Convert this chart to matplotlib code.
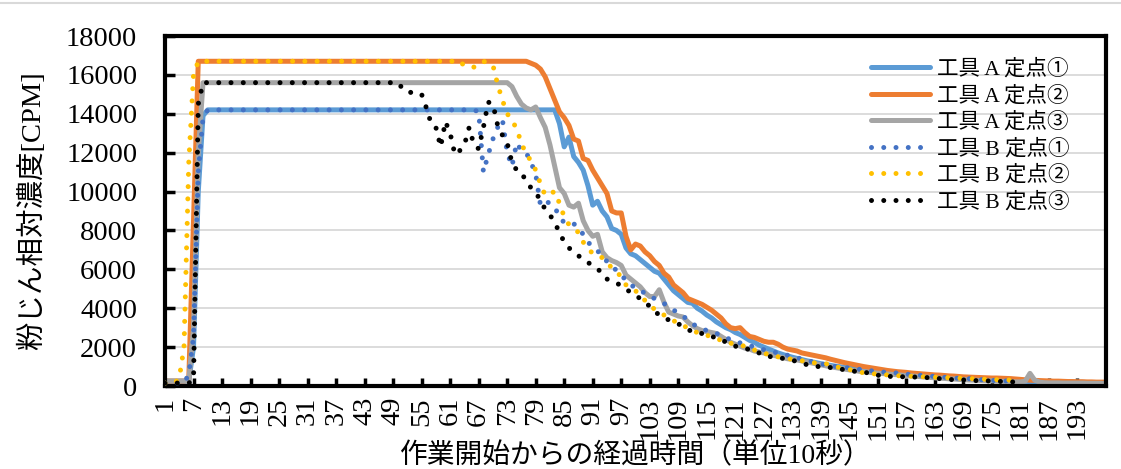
import matplotlib
matplotlib.use("Agg")
import matplotlib.pyplot as plt
from matplotlib.lines import Line2D
import numpy as np

plt.rcParams['font.family'] = ['Liberation Serif', 'Noto Sans CJK JP', 'DejaVu Sans']

# ---- data: relative dust concentration [CPM] per 10-second step ----
series_names = ["工具 A 定点①", "工具 A 定点②", "工具 A 定点③",
                "工具 B 定点①", "工具 B 定点②", "工具 B 定点③"]

tool_a_p1 = ([250] * 6 + [2000, 10000, 13900] + [14200] * 74 +
             [13500, 12300, 12800, 11800, 11500, 11100, 10300, 9300, 9500, 9000,
              8700, 8100, 8000, 7800, 7100, 6800, 6700, 6500, 6300, 6100,
              5900, 5800, 5500, 5200, 4900, 4700, 4500, 4300, 4250, 4000,
              3850, 3650, 3500, 3300, 3150, 3000, 2900, 2750, 2650, 2500,
              2350, 2250, 2100, 2000, 1900, 1800, 1700, 1620, 1550, 1480,
              1420, 1360, 1300, 1250, 1200, 1150, 1100, 1060, 1020, 990,
              960, 930, 900, 860, 820, 790, 760, 730, 710, 690,
              670, 650, 630, 610, 590, 570, 550, 530, 510, 500,
              480, 470, 460, 440, 430, 420, 410, 390, 380, 360,
              350, 330, 310, 300, 290, 280, 260, 250, 240, 230,
              220, 210, 210, 200, 200, 200, 200, 190, 190, 190,
              190, 180, 180, 180, 180, 180])

tool_a_p2 = ([250] * 5 + [300, 8500] + [16700] * 70 +
             [16600, 16500, 16300, 15900, 15300, 14700, 14100, 13800, 13400, 12700,
              12600, 11700, 11600, 11100, 10700, 10300, 9900, 9000, 8900, 8900,
              7700, 7000, 7300, 7200, 6900, 6700, 6400, 6200, 5800, 5600,
              5200, 5000, 4800, 4500, 4400, 4300, 4200, 4050, 3900, 3700,
              3500, 3200, 3000, 2950, 3000, 2750, 2550, 2500, 2400, 2300,
              2250, 2250, 2150, 2000, 1900, 1850, 1800, 1700, 1650, 1600,
              1550, 1500, 1450, 1380, 1320, 1260, 1200, 1150, 1100, 1050,
              1000, 960, 920, 880, 840, 800, 770, 740, 720, 700,
              670, 650, 630, 610, 590, 570, 560, 540, 520, 510,
              490, 470, 460, 450, 440, 430, 420, 410, 410, 400,
              390, 380, 360, 340, 320, 300, 290, 280, 270, 260,
              250, 250, 240, 230, 230, 220, 220, 210, 210, 200,
              200, 200])

tool_a_p3 = ([250] * 6 + [3000, 12000] + [15600] * 65 +
             [15400, 14900, 14500, 14300, 14200, 14350, 13800, 13300, 12400, 11300,
              10200, 9900, 9300, 9200, 9400, 8500, 8000, 7700, 7800, 6900,
              6600, 6450, 6350, 6200, 5700, 5500, 5300, 5100, 4800, 4600,
              4600, 4950, 4300, 3800, 3700, 3600, 3550, 3300, 3100, 2950,
              2850, 2800, 2750, 2700, 2550, 2400, 2250, 2150, 2050, 1950,
              1900, 1800, 1750, 1700, 1650, 1580, 1520, 1460, 1400, 1370,
              1340, 1290, 1240, 1190, 1140, 1090, 1040, 990, 950, 910,
              870, 830, 800, 760, 730, 710, 680, 660, 640, 620,
              600, 580, 560, 540, 520, 500, 480, 460, 440, 420,
              400, 390, 370, 360, 340, 330, 310, 300, 290, 280,
              270, 260, 250, 240, 230, 220, 210, 210, 250, 650,
              300, 200, 170, 160, 160, 160, 150, 150, 150, 150,
              150, 140, 140, 140, 140, 140])

tool_b_p1 = ([150] * 5 + [600, 2500, 11000, 13800] + [14200] * 57 +
             [14100, 11000, 11900, 12700, 13300, 13700, 12000, 11300, 12500, 12100,
              12000, 11500, 10900, 9300, 9500, 9400, 9200, 8700, 8400, 8400,
              8350, 8100, 7800, 7400, 7150, 6950, 6700, 6400, 6150, 5950,
              5750, 5400, 5200, 5050, 4950, 4750, 4600, 4500, 4420, 4250,
              4050, 3900, 3780, 3600, 3400, 3200, 3050, 2950, 2850, 2780,
              2700, 2630, 2500, 2380, 2280, 2220, 2150, 2080, 2000, 1930,
              1870, 1800, 1750, 1700, 1640, 1580, 1510, 1450, 1390, 1330,
              1260, 1200, 1140, 1090, 1050, 1010, 980, 950, 930, 890,
              860, 830, 800, 770, 740, 720, 700, 680, 670, 640,
              610, 590, 570, 550, 530, 510, 490, 470, 450, 430,
              410, 400, 390, 380, 360, 340, 320, 300, 290, 280,
              270, 260, 250, 240])

tool_b_p2 = ([150] * 3 + [400, 2000, 11500, 16000] + [16700] * 55 +
             [16500, 16600, 16500, 16400, 16500, 16700, 16600, 16500,
              15500, 14700, 14000, 13700, 13200, 12500, 11900, 11600, 11100, 10400,
              9800, 9900, 10000, 9400, 8700, 8300, 8100, 7900, 7400, 7100,
              6800, 6700, 6600, 6300, 6100, 5900, 5600, 5200, 5100, 4900,
              4650, 4400, 4150, 3950, 3800, 3650, 3500, 3350, 3250, 3100,
              3000, 2850, 2750, 2650, 2600, 2550, 2450, 2350, 2250, 2200,
              2150, 2100, 2050, 1950, 1850, 1750, 1700, 1600, 1550, 1500,
              1450, 1400, 1380, 1350, 1300, 1260, 1220, 1180, 1150, 1150,
              1100, 1000, 950, 900, 850, 780, 720, 680, 650, 630,
              610, 590, 570, 550, 530, 520, 510, 500, 490, 480,
              470, 460, 450, 440, 430, 420, 410, 400, 390, 380,
              370, 360, 350, 340, 330, 320, 315, 310, 305])

tool_b_p3 = ([150] * 6 + [300, 14500] + [15600] * 42 +
             [15300, 15100, 15100, 15100, 15000, 14300, 13500, 13300, 12300, 13600,
              13000, 11900, 12100, 12400, 13300, 12400, 12200, 13300, 14600, 14500,
              13400, 12900, 12500, 11500, 11100, 11000, 10500, 10200, 10000, 9500,
              9100, 8800, 8400, 7900, 7400, 7100, 6900, 6700, 6500, 6350,
              6200, 6000, 5850, 5500, 5400, 5300, 5150, 5000, 4800, 4650,
              4500, 4300, 4100, 3850, 3650, 3500, 3400, 3300, 3200, 3050,
              2900, 2800, 2730, 2700, 2650, 2550, 2480, 2420, 2250, 2120,
              2050, 1980, 1920, 1880, 1850, 1700, 1540, 1520, 1500, 1450,
              1420, 1390, 1330, 1250, 1200, 1100, 1030, 1010, 990, 970,
              950, 930, 880, 830, 790, 760, 720, 700, 680, 670,
              560, 470, 480, 500, 500, 480, 460, 460, 460, 460,
              440, 420, 400, 380, 360, 340, 320, 310, 310, 310,
              290, 270, 260, 260, 260, 250, 230, 210, 210, 210,
              210])

series_values = [tool_a_p1, tool_a_p2, tool_a_p3, tool_b_p1, tool_b_p2, tool_b_p3]
series_colors = ["#5B9BD5", "#ED7D31", "#A5A5A5", "#4472C4", "#FFC000", "#000000"]
series_dotted = [False, False, False, True, True, True]

x_tick_labels = list(range(1, 199, 6))
y_ticks = list(range(0, 18001, 2000))

# ---- figure ----
W, H = 1121, 469
fig = plt.figure(figsize=(W / 100, H / 100), dpi=100)
ax = fig.add_axes([165 / W, 1 - 386 / H, (1106 - 165) / W, (386 - 36) / H])

dot_style = (0, (0.001, 2.45))
for vals, name, col, dotted in zip(series_values, series_names, series_colors, series_dotted):
    x = np.arange(1, len(vals) + 1)
    if dotted:
        ax.plot(x, vals, color=col, lw=3.6, linestyle=dot_style,
                dash_capstyle='round', label=name, zorder=3)
    else:
        ax.plot(x, vals, color=col, lw=3.6, solid_joinstyle='round',
                solid_capstyle='round', label=name, zorder=2)

ax.set_xlim(1, 199)
ax.set_ylim(0, 18000)
ax.set_yticks(y_ticks)
ax.set_yticklabels([str(v) for v in y_ticks])
ax.set_xticks(x_tick_labels)
ax.set_xticklabels([str(v) for v in x_tick_labels], rotation=90)

ax.grid(axis='y', color='#d9d9d9', lw=1.3, zorder=0)
ax.set_axisbelow(True)
for sp in ax.spines.values():
    sp.set_color('black')
    sp.set_linewidth(3.0)

ax.tick_params(axis='y', direction='in', length=7, width=2.5, pad=20,
               labelsize=20.5, colors='black')
ax.tick_params(axis='x', direction='in', length=6, width=2.5, pad=8,
               labelsize=20.5, colors='black')

ax.set_xlabel("作業開始からの経過時間（単位10秒）", fontsize=20, labelpad=2)
ax.set_ylabel("粉じん相対濃度[CPM]", fontsize=20.5, labelpad=14)

leg = ax.legend(loc='upper left', bbox_to_anchor=(0.741, 0.958), frameon=False,
                prop={'size': 15.5}, handlelength=2.75, handletextpad=0.3,
                labelspacing=0.28, borderaxespad=0)

fig.add_artist(Line2D([0, 1], [1 - 3 / H, 1 - 3 / H], color='#d9d9d9', lw=1.5))

fig.savefig("out.png", dpi=100, facecolor='white')
